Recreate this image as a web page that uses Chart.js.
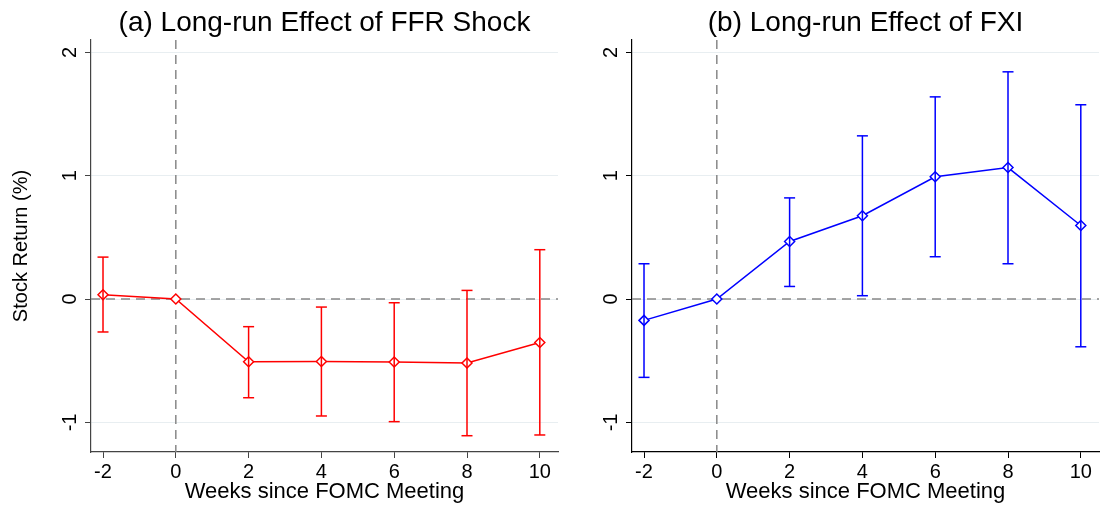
<!DOCTYPE html>
<html>
<head>
<meta charset="utf-8">
<script src="https://cdn.jsdelivr.net/npm/chart.js@4/dist/chart.umd.min.js"></script>
<style>
  body { margin: 0; background: #fff; }
  #wrap { position: relative; width: 1101px; height: 508px; }
  canvas { position: absolute; top: 0; }
</style>
</head>
<body>
<div id="wrap">
  <canvas id="ffr" width="560" height="508" style="left:0"></canvas>
  <canvas id="fxi" width="541" height="508" style="left:560px"></canvas>
</div>
<script>
const weeks = [-2, 0, 2, 4, 6, 8, 10];
const xTicks = [-2, 0, 2, 4, 6, 8, 10];
const yTicks = [-1, 0, 1, 2];

// (a) FFR shock: point estimate and confidence band
const ffrEst = [0.035, 0, -0.508, -0.506, -0.51, -0.519, -0.352];
const ffrLo  = [-0.267, null, -0.80, -0.948, -0.994, -1.108, -1.102];
const ffrHi  = [0.34, null, -0.224, -0.065, -0.03, 0.07, 0.40];

// (b) FXI
const fxiEst = [-0.173, 0, 0.467, 0.675, 0.991, 1.066, 0.596];
const fxiLo  = [-0.635, null, 0.102, 0.027, 0.343, 0.286, -0.387];
const fxiHi  = [0.286, null, 0.82, 1.323, 1.639, 1.842, 1.575];

Chart.defaults.font.family = "'Liberation Sans', Arial, Helvetica, sans-serif";
Chart.defaults.color = '#000';

function errorBars(lo, hi) {
    const pts = [];
    weeks.forEach((w, i) => {
        if (lo[i] === null) return;
        pts.push({ x: w, y: lo[i] }, { x: w, y: hi[i] }, { x: w, y: null });
    });
    return pts;
}

// dashed reference lines at week 0 and return 0
const refLines = {
    id: 'refLines',
    beforeDatasetsDraw(chart) {
        const { ctx, chartArea: a, scales } = chart;
        const x0 = scales.x.getPixelForValue(0);
        const y0 = scales.y.getPixelForValue(0);
        ctx.save();
        ctx.strokeStyle = '#888';
        ctx.lineWidth = 1.5;
        ctx.setLineDash([9, 6]);
        ctx.beginPath();
        ctx.moveTo(a.left, y0);
        ctx.lineTo(a.right, y0);
        ctx.moveTo(x0, a.top);
        ctx.lineTo(x0, a.bottom);
        ctx.stroke();
        ctx.restore();
    }
};

// vertical tick labels on the y axis, like Stata draws them
const yLabels = {
    id: 'yLabels',
    afterDraw(chart) {
        const { ctx } = chart;
        const sc = chart.scales.y;
        ctx.save();
        ctx.fillStyle = '#000';
        ctx.font = "20px 'Liberation Sans', Arial, sans-serif";
        ctx.textAlign = 'center';
        ctx.textBaseline = 'middle';
        sc.ticks.forEach(t => {
            ctx.save();
            ctx.translate(sc.right - 21, sc.getPixelForValue(t.value));
            ctx.rotate(-Math.PI / 2);
            ctx.fillText(t.label, 0, 0);
            ctx.restore();
        });
        ctx.restore();
    }
};

function makeChart(id, title, color, est, lo, hi, axisWidth, showYTitle, axisColor) {
    return new Chart(document.getElementById(id), {
        type: 'line',
        data: {
            datasets: [
                {
                    data: errorBars(lo, hi),
                    borderColor: color,
                    borderWidth: 1.5,
                    spanGaps: false,
                    pointStyle: 'line',
                    pointRadius: 5.5,
                    pointBorderColor: color,
                    pointBorderWidth: 1.5
                },
                {
                    data: weeks.map((w, i) => ({ x: w, y: est[i] })),
                    borderColor: color,
                    borderWidth: 1.5,
                    pointStyle: 'rectRot',
                    pointRadius: 5,
                    pointBackgroundColor: '#fff',
                    pointBorderColor: color,
                    pointBorderWidth: 1.5
                }
            ]
        },
        options: {
            responsive: false,
            animation: false,
            events: [],
            devicePixelRatio: 1,
            layout: { autoPadding: false, padding: { left: 0, right: 2, top: 0, bottom: 0 } },
            plugins: {
                legend: { display: false },
                tooltip: { enabled: false },
                title: {
                    display: true,
                    text: title,
                    fullSize: false,
                    color: '#000',
                    font: { size: 28, weight: 'normal' },
                    padding: { top: 6, bottom: 0.4 }
                }
            },
            scales: {
                x: {
                    type: 'linear',
                    min: -2.33,
                    max: 10.5,
                    afterBuildTicks: s => { s.ticks = xTicks.map(v => ({ value: v })); },
                    afterFit: s => { s.height = 56; s.paddingLeft = 0; s.paddingRight = 0; },
                    grid: { drawOnChartArea: false, tickLength: 6, tickColor: axisColor, tickWidth: 1 },
                    border: { color: axisColor, width: 1.2 },
                    ticks: { font: { size: 20 }, color: '#000', padding: 2, maxRotation: 0 },
                    title: {
                        display: true,
                        text: 'Weeks since FOMC Meeting',
                        font: { size: 22 },
                        color: '#000',
                        padding: { top: 0, bottom: 3 }
                    }
                },
                y: {
                    type: 'linear',
                    min: -1.24,
                    max: 2.1,
                    afterBuildTicks: s => { s.ticks = yTicks.map(v => ({ value: v })); },
                    afterFit: s => { s.width = axisWidth; },
                    grid: { color: '#e8eef1', lineWidth: 1, tickLength: 6, tickColor: axisColor, tickWidth: 1 },
                    border: { color: axisColor, width: 1.2 },
                    ticks: { display: false },
                    title: {
                        display: showYTitle,
                        text: 'Stock Return (%)',
                        font: { size: 20 },
                        color: '#000',
                        padding: { top: 9, bottom: 0 }
                    }
                }
            }
        },
        plugins: [refLines, yLabels]
    });
}

makeChart('ffr', '(a) Long-run Effect of FFR Shock', '#ff0000', ffrEst, ffrLo, ffrHi, 91, true, '#444');
makeChart('fxi', '(b) Long-run Effect of FXI', '#0000ff', fxiEst, fxiLo, fxiHi, 72, false, '#000');
</script>
</body>
</html>
